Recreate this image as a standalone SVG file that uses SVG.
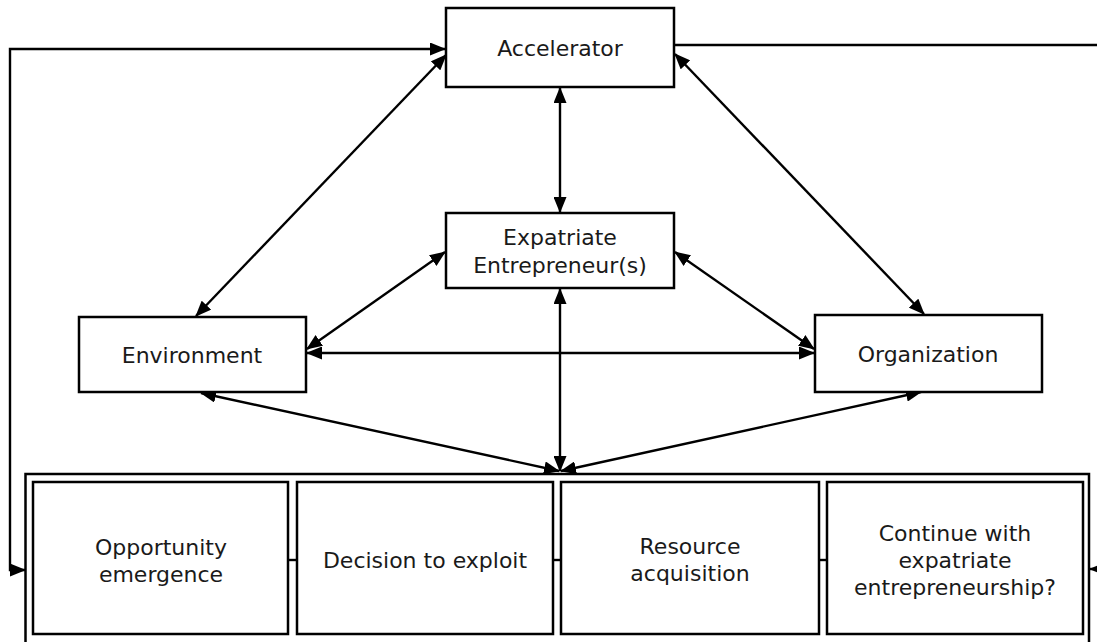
<svg xmlns="http://www.w3.org/2000/svg" width="1097" height="642" viewBox="0 0 1097 642">
<style>
.box{fill:#fff;stroke:#000;stroke-width:2.5}
.t{font-family:"DejaVu Sans","Liberation Sans",sans-serif;font-size:22px;fill:#1a1a1a;text-anchor:middle}
.c{fill:none;stroke:#000;stroke-width:2.4}
</style>
<defs>
<marker id="ah" viewBox="0 0 16 13" refX="15" refY="6.5" markerWidth="16" markerHeight="13" markerUnits="userSpaceOnUse" orient="auto-start-reverse">
<path d="M0,0 L16,6.5 L0,13 z" fill="#000"/>
</marker>
</defs>
<rect width="1097" height="642" fill="#fff"/>
<g id="connectors">
<line class="c" x1="560" y1="88" x2="560" y2="212" marker-start="url(#ah)" marker-end="url(#ah)"/>
<line class="c" x1="446" y1="55" x2="196" y2="316" marker-start="url(#ah)" marker-end="url(#ah)"/>
<line class="c" x1="675" y1="54" x2="924" y2="314" marker-start="url(#ah)" marker-end="url(#ah)"/>
<line class="c" x1="445" y1="252" x2="307" y2="349" marker-start="url(#ah)" marker-end="url(#ah)"/>
<line class="c" x1="675" y1="252" x2="814" y2="349" marker-start="url(#ah)" marker-end="url(#ah)"/>
<line class="c" x1="307" y1="353" x2="814" y2="353" marker-start="url(#ah)" marker-end="url(#ah)"/>
<line class="c" x1="560" y1="289" x2="560" y2="471" marker-start="url(#ah)" marker-end="url(#ah)"/>
<line class="c" x1="201" y1="393" x2="559" y2="471" marker-start="url(#ah)" marker-end="url(#ah)"/>
<line class="c" x1="921" y1="392" x2="561" y2="471" marker-start="url(#ah)" marker-end="url(#ah)"/>
<polyline class="c" points="25,570 10,570 10,49 445,49" marker-start="url(#ah)" marker-end="url(#ah)"/>
<line class="c" x1="674" y1="45" x2="1100" y2="45"/>
<line class="c" x1="1100" y1="569" x2="1090" y2="569" marker-end="url(#ah)"/>
<line class="c" x1="288" y1="560" x2="297" y2="560"/>
<line class="c" x1="553" y1="560" x2="561" y2="560"/>
<line class="c" x1="819" y1="560" x2="827" y2="560"/>
</g>
<g id="accelerator">
<rect class="box" x="446" y="8" width="228" height="79"/>
<text class="t" x="560" y="56">Accelerator</text>
</g>
<g id="expatriate">
<rect class="box" x="446" y="213" width="228" height="75"/>
<text class="t" x="560" y="245">Expatriate</text>
<text class="t" x="560" y="273">Entrepreneur(s)</text>
</g>
<g id="environment">
<rect class="box" x="79" y="317" width="227" height="75"/>
<text class="t" x="192" y="363">Environment</text>
</g>
<g id="organization">
<rect class="box" x="815" y="315" width="227" height="77"/>
<text class="t" x="928" y="362">Organization</text>
</g>
<g id="process">
<rect class="box" x="25.5" y="474" width="1063.5" height="190" style="fill:none"/>
</g>
<g id="opportunity">
<rect class="box" x="33" y="482" width="255" height="152"/>
<text class="t" x="161" y="555">Opportunity</text>
<text class="t" x="161" y="582">emergence</text>
</g>
<g id="decision">
<rect class="box" x="297" y="482" width="256" height="152"/>
<text class="t" x="425" y="568">Decision to exploit</text>
</g>
<g id="resource">
<rect class="box" x="561" y="482" width="258" height="152"/>
<text class="t" x="690" y="554">Resource</text>
<text class="t" x="690" y="581">acquisition</text>
</g>
<g id="continue">
<rect class="box" x="827" y="482" width="256" height="152"/>
<text class="t" x="955" y="541">Continue with</text>
<text class="t" x="955" y="568">expatriate</text>
<text class="t" x="955" y="595">entrepreneurship?</text>
</g>
</svg>
